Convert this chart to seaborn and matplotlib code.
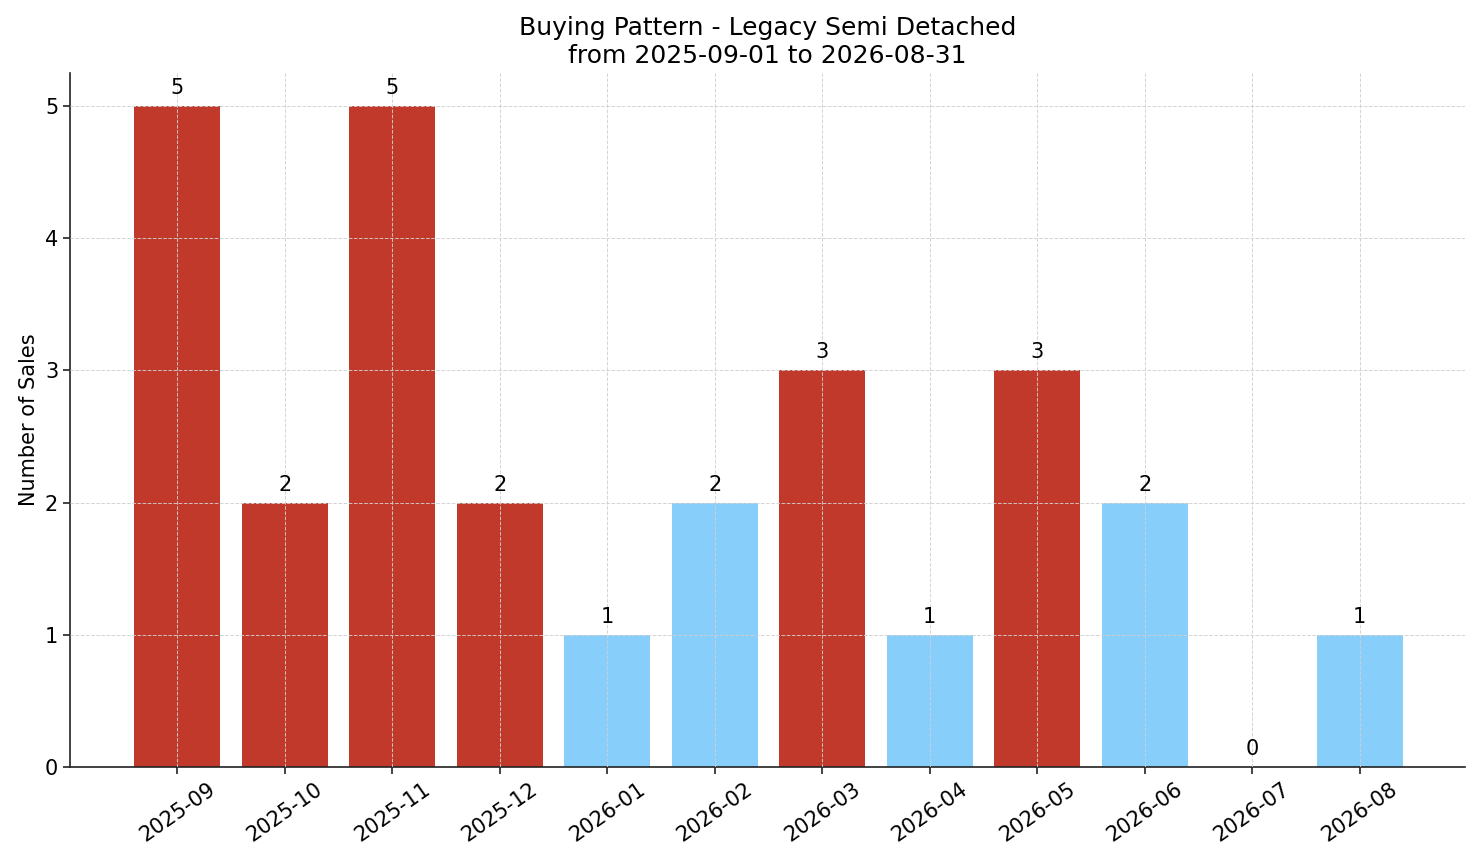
import numpy as np
import pandas as pd
import matplotlib
matplotlib.use("Agg")
import matplotlib.pyplot as plt
import seaborn as sns

# data
months = ['2025-09', '2025-10', '2025-11', '2025-12', '2026-01', '2026-02',
          '2026-03', '2026-04', '2026-05', '2026-06', '2026-07', '2026-08']
sales = [5, 2, 5, 2, 1, 2, 3, 1, 3, 2, 0, 1]
bar_colors = ['#c0392b', '#c0392b', '#c0392b', '#c0392b', '#87cefa', '#87cefa',
              '#c0392b', '#87cefa', '#c0392b', '#87cefa', '#87cefa', '#87cefa']

sns.set_style("ticks")
plt.rcParams['font.family'] = ['DejaVu Sans']
plt.rcParams['text.color'] = 'black'
plt.rcParams['axes.labelcolor'] = 'black'

df = pd.DataFrame({'Month': months, 'Sales': sales})

fig = plt.figure(figsize=(14.81, 8.63), dpi=100)
ax = fig.add_axes([70 / 1481, 1 - 767 / 863, (1465 - 70) / 1481, (767 - 73) / 863])

sns.barplot(data=df, x='Month', y='Sales', hue='Month', palette=bar_colors,
            width=0.8, saturation=1, legend=False, linewidth=0, ax=ax)

for i, v in enumerate(sales):
    ax.text(i, v + 0.06, str(v), ha='center', va='bottom', fontsize=15, color='black')

ax.set_xlim(-1.0, 11.98)
ax.set_ylim(0, 5.25)
ax.set_yticks(range(0, 6))
ax.set_axisbelow(False)
ax.grid(True, linestyle='--', color='#d0d0d0', linewidth=0.7, alpha=0.9)
sns.despine(ax=ax)
for s in ['left', 'bottom']:
    ax.spines[s].set_color('#222222')
    ax.spines[s].set_linewidth(1.2)

ax.set_xlabel('')
ax.set_ylabel('Number of Sales', fontsize=15)
ax.tick_params(axis='both', labelsize=15, length=5, width=1.2, colors='#222222', labelcolor='black')
plt.setp(ax.get_xticklabels(), rotation=35, ha='center')
ax.set_title('Buying Pattern - Legacy Semi Detached\nfrom 2025-09-01 to 2026-08-31', fontsize=18, pad=7)

fig.savefig('out.png', dpi=100)
